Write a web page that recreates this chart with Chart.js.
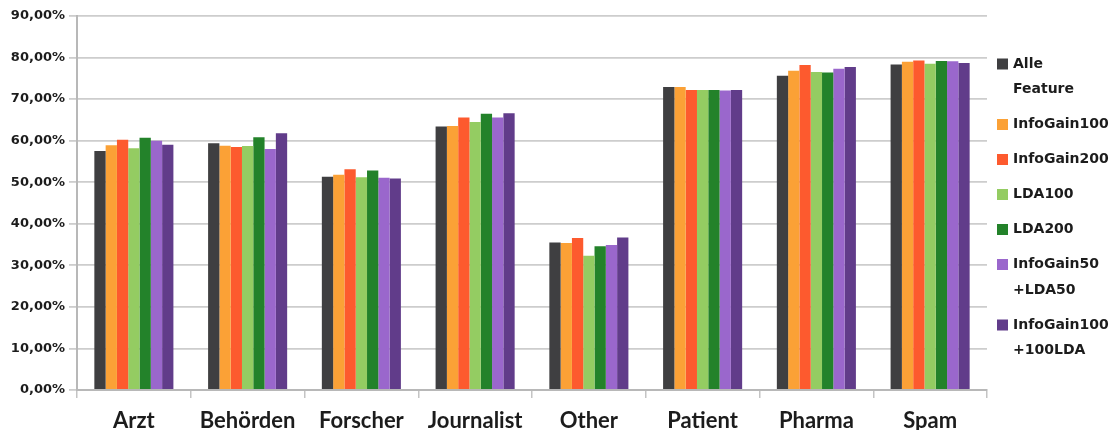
<!DOCTYPE html>
<html>
<head>
<meta charset="utf-8">
<script src="https://cdn.jsdelivr.net/npm/chart.js@4.4.1/dist/chart.umd.min.js"></script>
<style>
  html, body { margin: 0; padding: 0; background: #ffffff; }
  #wrap { width: 1115px; height: 430px; }
</style>
</head>
<body>
<div id="wrap"><canvas id="chart" width="1115" height="430"></canvas></div>
<script>
// Categories and accuracy values (%) per feature set
const categories = ['Arzt', 'Behörden', 'Forscher', 'Journalist', 'Other', 'Patient', 'Pharma', 'Spam'];
const alleFeature       = [57.5, 59.4, 51.3, 63.4, 35.5, 72.9, 75.6, 78.3];
const infoGain100       = [58.9, 58.8, 51.8, 63.5, 35.4, 72.9, 76.8, 79.0];
const infoGain200       = [60.2, 58.5, 53.1, 65.6, 36.6, 72.2, 78.2, 79.3];
const lda100            = [58.2, 58.7, 51.2, 64.5, 32.3, 72.2, 76.5, 78.5];
const lda200            = [60.7, 60.8, 52.8, 66.5, 34.6, 72.2, 76.4, 79.2];
const infoGain50Lda50   = [60.0, 58.0, 51.1, 65.6, 34.9, 72.1, 77.3, 79.1];
const infoGain100Lda100 = [59.0, 61.8, 50.9, 66.6, 36.7, 72.2, 77.7, 78.7];

// Legend labels (one entry per line)
const seriesLabels = [
  ['Alle', 'Feature'],
  ['InfoGain100'],
  ['InfoGain200'],
  ['LDA100'],
  ['LDA200'],
  ['InfoGain50', '+LDA50'],
  ['InfoGain100', '+100LDA']
];
const seriesValues = [alleFeature, infoGain100, infoGain200, lda100, lda200, infoGain50Lda50, infoGain100Lda100];
const seriesColors = ['#3f3f41', '#fba136', '#fd5a2e', '#94cc62', '#23822a', '#9a67cc', '#613c8a'];

// Y axis range
const yMin = 0;
const yMax = 90;
const yStep = 10;

const FONT = '"DejaVu Sans", sans-serif';
const CAT_FONT = 'Lato, sans-serif';
const TEXT = '#1c1c1c';

// Legend drawn on the canvas so that labels can span two lines
const sideLegend = {
  id: 'sideLegend',
  afterDraw(chart) {
    const ctx = chart.ctx;
    const x0 = chart.chartArea.right + 10;
    const lineH = 25.5;
    const gap = 35;
    let y = 64;
    ctx.save();
    ctx.font = 'bold 14px ' + FONT;
    ctx.textBaseline = 'middle';
    ctx.textAlign = 'left';
    chart.data.datasets.forEach((ds) => {
      const lines = ds.legendLines;
      ctx.fillStyle = ds.backgroundColor;
      ctx.fillRect(x0, y - 5.5, 11, 11);
      ctx.fillStyle = TEXT;
      lines.forEach((t, k) => {
        ctx.fillText(t, x0 + 16, y + k * lineH);
      });
      y += (lines.length - 1) * lineH + gap;
    });
    ctx.restore();
  }
};

new Chart(document.getElementById('chart'), {
  type: 'bar',
  data: {
    labels: categories,
    datasets: seriesValues.map((vals, i) => ({
      label: seriesLabels[i].join(' '),
      legendLines: seriesLabels[i],
      data: vals,
      backgroundColor: seriesColors[i],
      borderWidth: 0,
      barPercentage: 1.0,
      categoryPercentage: 0.695
    }))
  },
  options: {
    responsive: false,
    animation: false,
    devicePixelRatio: 1,
    layout: { padding: { top: 16, right: 128, bottom: 0, left: 0 } },
    plugins: {
      legend: { display: false },
      tooltip: { enabled: false }
    },
    scales: {
      x: {
        afterFit(scale) { scale.height = 40; },
        grid: {
          display: true,
          drawOnChartArea: false,
          drawTicks: true,
          tickLength: 8,
          offset: true,
          color: '#c4c4c4',
          lineWidth: 1.5
        },
        border: { color: '#b8b8b8', width: 2 },
        ticks: {
          font: { family: CAT_FONT, size: 22, weight: 'bold', lineHeight: 1 },
          color: TEXT,
          padding: 11.5
        }
      },
      y: {
        min: yMin,
        max: yMax,
        afterFit(scale) { scale.width = 77; },
        ticks: {
          stepSize: yStep,
          font: { family: FONT, size: 13, weight: 'bold' },
          color: TEXT,
          padding: 4,
          callback: v => v.toFixed(2).replace('.', ',') + '%'
        },
        grid: {
          color: '#cdcdcd',
          lineWidth: 1.8,
          tickLength: 8
        },
        border: { color: '#b8b8b8', width: 2 }
      }
    }
  },
  plugins: [sideLegend]
});
</script>
</body>
</html>
